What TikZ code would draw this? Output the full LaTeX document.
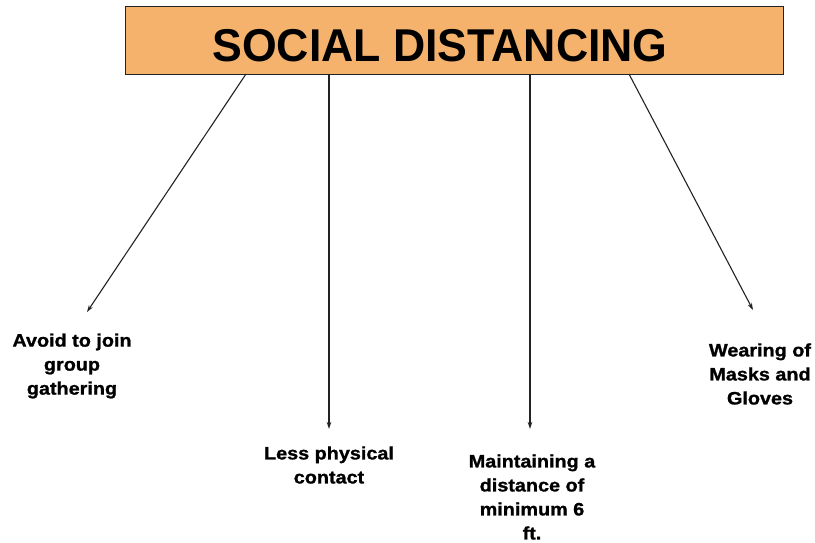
\documentclass[tikz,border=0pt]{standalone}
\usepackage{fontspec}
\setmainfont{Liberation Sans}
\newfontfamily\titlefont[FakeStretch=0.97]{Liberation Sans}
\newfontfamily\leaffont[FakeBold=1.2,FakeStretch=1.1]{Liberation Sans}
\usetikzlibrary{arrows.meta}
\definecolor{boxfill}{HTML}{F5B26C}
\definecolor{linegray}{HTML}{222222}
\begin{document}
\begin{tikzpicture}[x=1pt,y=-1pt,
  titlebox/.style={draw=linegray,line width=0.9pt,fill=boxfill,minimum width=658pt,minimum height=68pt,inner sep=0pt},
  titletext/.style={anchor=base,inner sep=0pt,font=\titlefont\fontsize{46}{50}\selectfont\bfseries},
  leaf/.style={align=center,inner sep=0pt,font=\leaffont\fontsize{18}{24}\selectfont\bfseries},
  conn/.style={draw=linegray,line width=1.1pt,-{Stealth[length=7pt,width=4.5pt]}}]
\useasboundingbox (0,0) rectangle (815,543);
\node[titlebox] (title) at (454,40) {};
\node[titletext] (titlelabel) at (440,62) {SOCIAL DISTANCING};
\coordinate (s1) at (246,74);
\coordinate (s2) at (329,74);
\coordinate (s3) at (530,74);
\coordinate (s4) at (629,74);
\coordinate (e1) at (87,312);
\coordinate (e2) at (329,429);
\coordinate (e3) at (530,429);
\coordinate (e4) at (753,310);
\node[leaf] (a) at (72,366) {Avoid to join\\group\\gathering};
\node[leaf] (b) at (329,465) {Less physical\\contact};
\node[leaf] (c) at (532,497) {Maintaining a\\distance of\\minimum 6\\ft.};
\node[leaf] (d) at (760,374) {Wearing of\\Masks and\\Gloves};
\draw[conn] (s1) -- (e1);
\draw[conn] (s2) -- (e2);
\draw[conn] (s3) -- (e3);
\draw[conn] (s4) -- (e4);
\end{tikzpicture}
\end{document}
